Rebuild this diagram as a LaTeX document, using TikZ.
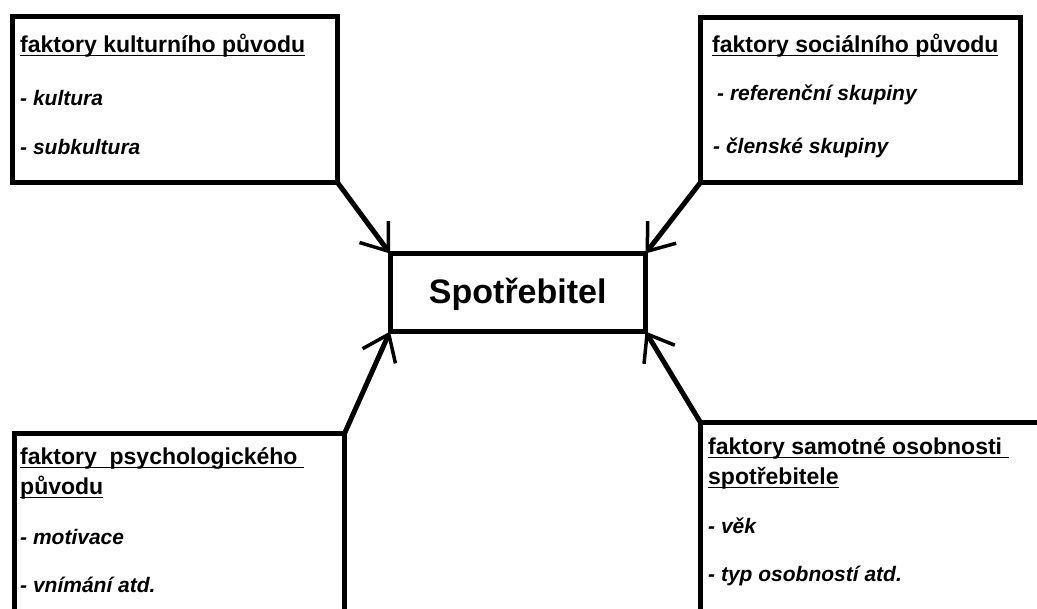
\documentclass[tikz,border=0pt]{standalone}
\usepackage{fontspec}
\setmainfont{Liberation Sans}
\usetikzlibrary{arrows.meta}
\newcommand{\ulin}[1]{\leavevmode\setbox0\hbox{#1}\rlap{\vrule height -2pt depth 3.5pt width \wd0}\box0}

\begin{document}
\begin{tikzpicture}[x=1pt, y=-1pt,
    box/.style={draw, line width=5pt, inner sep=0pt, outer sep=0pt},
    ttl/.style={anchor=base west, inner sep=0pt, align=left, font=\bfseries\fontsize{23}{30}\selectfont},
    itm/.style={anchor=base west, inner sep=0pt, font=\bfseries\itshape\fontsize{21}{25}\selectfont},
    arr/.style={line width=5pt, -{Straight Barb[length=24pt, width=36pt, line width=3.5pt]}}]

    \useasboundingbox (0,0) rectangle (1037,609);
    \clip (0,0) rectangle (1037,609);

    % Boxes
    \node[box, minimum width=325pt, minimum height=166pt] (kult) at (175,99.5) {};
    \node[box, minimum width=320pt, minimum height=165pt] (soc) at (860.25,100.25) {};
    \node[box, minimum width=330pt, minimum height=216.5pt] (psych) at (179.5,541.75) {};
    \node[box, minimum width=359.5pt, minimum height=227.5pt] (osob) at (880.25,536.25) {};
    \node[box, minimum width=255.5pt, minimum height=78pt, text height=22pt, text depth=0pt,
          font=\bfseries\fontsize{34}{40}\selectfont] (spot) at (517.75,292.5) {Spotřebitel};

    % Texts
    \node[ttl] (kultT) at (20,53) {\ulin{faktory kulturního původu}};
    \node[itm] (kult1) at (20,106) {- kultura};
    \node[itm] (kult2) at (20,155) {- subkultura};

    \node[ttl] (socT) at (712,53) {\ulin{faktory sociálního původu}};
    \node[itm] (soc1) at (717,101) {- referenční skupiny};
    \node[itm] (soc2) at (713,154) {- členské skupiny};

    % two-line titles: base is the last line
    \node[ttl] (psychT) at (20,495) {\ulin{faktory\ \ psychologického\ }\\\ulin{původu}};
    \node[itm] (psych1) at (20,544) {- motivace};
    \node[itm] (psych2) at (20,592) {- vnímání atd.};

    \node[ttl] (osobT) at (708,485) {\ulin{faktory samotné osobnosti\ }\\\ulin{spotřebitele}};
    \node[itm] (osob1) at (708,534) {- věk};
    \node[itm] (osob2) at (708,582) {- typ osobností atd.};

    % Edges
    \draw[arr] (kult.south east) -- (spot.north west);
    \draw[arr] (soc.south west) -- (spot.north east);
    \draw[arr] (psych.north east) -- (spot.south west);
    \draw[arr] (osob.north west) -- (spot.south east);
\end{tikzpicture}
\end{document}
